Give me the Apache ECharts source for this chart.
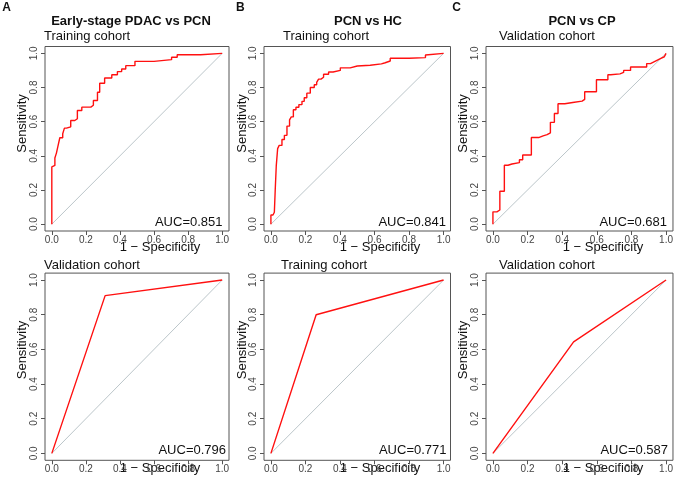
<!DOCTYPE html>
<html><head><meta charset="utf-8">
<script src="https://cdn.jsdelivr.net/npm/echarts@6/dist/echarts.min.js"></script>
<style>html,body{margin:0;padding:0;background:#fff}#c{width:676px;height:487px}</style>
</head><body><div id="c"></div>
<script>
// ---------- data ----------
const tickValues = [0, 0.2, 0.4, 0.6, 0.8, 1.0];

// A, training cohort (Early-stage PDAC vs PCN)
const fprA1 = [0, 0, 0.008, 0.018, 0.027, 0.037, 0.047, 0.064, 0.074, 0.086, 0.111, 0.135, 0.15, 0.176, 0.229, 0.244, 0.268, 0.281, 0.31, 0.352, 0.385, 0.41, 0.434, 0.488, 0.6, 0.703, 0.736, 0.873, 1];
const tprA1 = [0, 0.335, 0.344, 0.387, 0.416, 0.461, 0.506, 0.529, 0.562, 0.57, 0.607, 0.617, 0.665, 0.685, 0.696, 0.724, 0.772, 0.825, 0.856, 0.875, 0.893, 0.908, 0.928, 0.953, 0.963, 0.977, 0.992, 1.0, 1.0];
// B, training cohort (PCN vs HC)
const fprB1 = [0, 0, 0.012, 0.02, 0.025, 0.031, 0.039, 0.048, 0.064, 0.078, 0.093, 0.108, 0.118, 0.13, 0.145, 0.162, 0.18, 0.193, 0.208, 0.228, 0.251, 0.265, 0.276, 0.29, 0.305, 0.334, 0.36, 0.402, 0.459, 0.5, 0.575, 0.64, 0.662, 0.691, 0.8, 0.895, 0.903, 1];
const tprB1 = [0, 0.054, 0.06, 0.07, 0.2, 0.341, 0.442, 0.461, 0.496, 0.52, 0.574, 0.61, 0.628, 0.67, 0.684, 0.7, 0.719, 0.74, 0.767, 0.8, 0.816, 0.83, 0.849, 0.86, 0.878, 0.891, 0.9, 0.915, 0.926, 0.93, 0.938, 0.945, 0.955, 0.971, 0.975, 0.99, 1.0, 1.0];
// C, validation cohort (PCN vs CP)
const fprC1 = [0, 0, 0.023, 0.04, 0.066, 0.087, 0.11, 0.153, 0.172, 0.222, 0.264, 0.29, 0.313, 0.332, 0.355, 0.376, 0.415, 0.461, 0.515, 0.53, 0.598, 0.664, 0.68, 0.734, 0.755, 0.795, 0.888, 0.91, 0.93, 0.95, 0.97, 0.99, 1];
const tprC1 = [0, 0.072, 0.083, 0.193, 0.345, 0.352, 0.36, 0.377, 0.405, 0.507, 0.517, 0.524, 0.535, 0.596, 0.648, 0.705, 0.712, 0.72, 0.73, 0.775, 0.845, 0.875, 0.88, 0.888, 0.9, 0.92, 0.94, 0.95, 0.96, 0.97, 0.98, 0.99, 1.0];
// bottom row
const fprA2 = [0, 0.313, 1];
const tprA2 = [0, 0.91, 1];
const fprB2 = [0, 0.262, 1];
const tprB2 = [0, 0.8, 1];
const fprC2 = [0, 0.466, 1];
const tprC2 = [0, 0.643, 1];

const panelLetters = ['A', 'B', 'C'];
const panelTitles = ['Early-stage PDAC vs PCN', 'PCN vs HC', 'PCN vs CP'];
const cohortLabels = [['Training cohort', 'Training cohort', 'Validation cohort'],
                      ['Validation cohort', 'Training cohort', 'Validation cohort']];
const aucLabels = [['AUC=0.851', 'AUC=0.841', 'AUC=0.681'],
                   ['AUC=0.796', 'AUC=0.771', 'AUC=0.587']];
const yAxisName = 'Sensitivity';
const xAxisName = '1 \u2212 Specificity';

// ---------- layout ----------
const FONT = '"Liberation Sans", Arial, sans-serif';
const cols = [{left: 45, width: 184}, {left: 264, width: 186.5}, {left: 486, width: 187}];
const rows = [{top: 46.5, height: 184.5}, {top: 273.1, height: 187.2}];
const curves = [[[fprA1, tprA1], [fprB1, tprB1], [fprC1, tprC1]],
                [[fprA2, tprA2], [fprB2, tprB2], [fprC2, tprC2]]];

const grids = [], xAxes = [], yAxes = [], series = [], graphics = [];
let gi = 0;
for (let r = 0; r < 2; r++) {
  for (let c = 0; c < 3; c++) {
    grids.push({left: cols[c].left, top: rows[r].top, width: cols[c].width, height: rows[r].height,
      show: true, borderColor: '#555', borderWidth: 1, backgroundColor: 'transparent', containLabel: false});
    const common = {
      gridIndex: gi, type: 'value', min: -0.04, max: 1.04,
      axisLine: {show: false, onZero: false},
      splitLine: {show: false},
      axisTick: {show: true, inside: false, length: 4, customValues: tickValues, lineStyle: {color: '#555', width: 1}},
    };
    xAxes.push(Object.assign({}, common, {
      position: 'bottom',
      axisLabel: {customValues: tickValues, formatter: v => v.toFixed(1), fontSize: 10, color: '#444', margin: 4, fontFamily: FONT}
    }));
    yAxes.push(Object.assign({}, common, {
      position: 'left',
      axisLabel: {customValues: tickValues, formatter: v => v.toFixed(1), fontSize: 10, color: '#444', margin: 6, rotate: 90, fontFamily: FONT}
    }));
    series.push({type: 'line', xAxisIndex: gi, yAxisIndex: gi, data: [[0, 0], [1, 1]], symbol: 'none', silent: true,
      lineStyle: {color: '#bcc6ca', width: 1}, animation: false});
    const [fx, ty] = curves[r][c];
    series.push({type: 'line', xAxisIndex: gi, yAxisIndex: gi, data: fx.map((x, i) => [x, ty[i]]), symbol: 'none', silent: true,
      step: r === 0 ? 'end' : false, lineStyle: {color: '#ff1010', width: 1.4}, animation: false});
    gi++;
  }
}

function txt(text, x, y, size, opts) {
  opts = opts || {};
  graphics.push({type: 'text', x: x, y: y, rotation: opts.rot || 0, silent: true,
    style: {text: text, x: 0, y: 0, font: (opts.bold ? 'bold ' : '') + size + 'px ' + FONT,
      fill: opts.color || '#111', textAlign: opts.align || 'center', textVerticalAlign: 'middle'}});
}

// panel letters and titles
const letterX = [6.7, 240.3, 456.7];
const titleX = [131, 368, 582];
for (let c = 0; c < 3; c++) {
  txt(panelLetters[c], letterX[c], 7.5, 12, {bold: true});
  txt(panelTitles[c], titleX[c], 21, 13, {bold: true});
}
// cohort labels
const cohortX = [[44, 283, 499], [44, 281, 499]];
const cohortY = [36.5, 265.8];
// AUC labels
const aucX = [[222.5, 446, 667], [226, 446.5, 668]];
const aucY = [222.3, 450];
// axis titles
const ylabX = [22, 242, 463];
const ylabY = [123.5, 350];
const xlabX = [160, 380, 603];
const xlabY = [247.5, 468.5];
for (let r = 0; r < 2; r++) {
  for (let c = 0; c < 3; c++) {
    txt(cohortLabels[r][c], cohortX[r][c], cohortY[r], 13, {align: 'left'});
    txt(aucLabels[r][c], aucX[r][c], aucY[r], 13, {align: 'right'});
    txt(yAxisName, ylabX[c], ylabY[r], 13, {rot: Math.PI / 2});
    txt(xAxisName, xlabX[c], xlabY[r], 13);
  }
}

const chart = echarts.init(document.getElementById('c'), null, {renderer: 'canvas'});
chart.setOption({
  animation: false,
  backgroundColor: '#ffffff',
  grid: grids, xAxis: xAxes, yAxis: yAxes, series: series, graphic: graphics
});
</script>
</body></html>
